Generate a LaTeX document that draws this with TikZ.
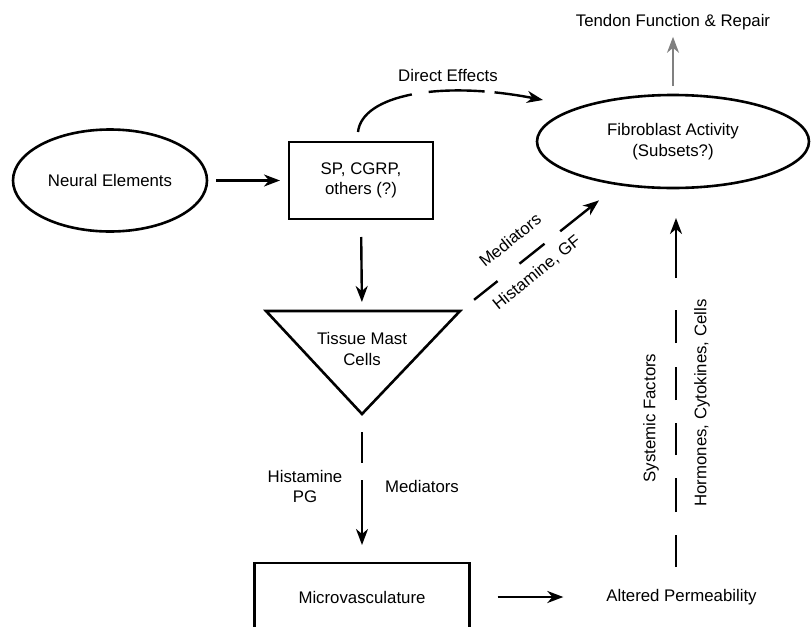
\documentclass[tikz,border=0pt]{standalone}
\usepackage{fontspec}
\setmainfont{Liberation Sans}
\usetikzlibrary{arrows.meta,shapes.geometric}
\begin{document}
\begin{tikzpicture}[x=1pt,y=-1pt,
  every node/.style={font=\fontsize{16.8}{20.5}\selectfont, align=center, inner sep=0pt, outer sep=0pt},
  shapeline/.style={draw, line width=2.6pt},
  arr/.style={line width=2.4pt, -{Stealth[length=16pt,width=12pt,inset=5pt]}},
]
\useasboundingbox (0,0) rectangle (812,627);
\clip (0,0) rectangle (812,627);

% nodes
\node[shapeline, ellipse, minimum width=194pt, minimum height=102pt] (ne) at (110,180.5) {Neural Elements};
\node[shapeline, rectangle, minimum width=144pt, minimum height=77pt] (sp) at (361,180.5) {SP, CGRP,\\others (?)};
\node[shapeline, ellipse, minimum width=272pt, minimum height=93pt] (fa) at (673,141.5) {Fibroblast Activity\\(Subsets?)};
\node (tf) at (673,22) {Tendon Function \& Repair};
\node (de) at (448,75) {Direct Effects};

% triangle
\coordinate (tl) at (266,311);
\coordinate (tr) at (460,311);
\coordinate (tb) at (362,414);
\coordinate (tt) at (362,311);
\draw[line width=2.6pt, line join=miter] (tl) -- (tr) -- (tb) -- cycle;
\node (tm) at (362,349) {Tissue Mast\\Cells};

\node[shapeline, rectangle, minimum width=215pt, minimum height=68pt] (mv) at (362,597) {Microvasculature};
\node (ap) at (681.5,597) {Altered Permeability};

\node (hp) at (305,486.5) {Histamine\\PG};
\node (md) at (422,486) {Mediators};

\node[rotate=90] (sf) at (651,418) {Systemic Factors};
\node[rotate=90] (hc) at (702,403) {Hormones, Cytokines, Cells};

% connectors
\draw[arr, shorten <=9pt, shorten >=9pt] (ne.east) -- (sp.west);
\draw[arr, shorten <=18pt, shorten >=9pt] (sp.south) -- (tt);
\draw[arr, shorten <=18pt, shorten >=18pt, dash pattern=on 31pt off 17pt on 80pt] (tb) -- (mv.north);
\draw[arr, shorten <=28pt, shorten >=43pt] (mv.east) -- (ap.west);

\coordinate (de1) at (358,132);
\coordinate (de2) at (543,100);
\draw[arr, dash pattern=on 70pt off 17pt on 56pt off 10pt on 80pt] (de1) .. controls (362,95) and (440,80) .. (de2);

\draw[arr, shorten <=18pt, shorten >=26pt, dash pattern=on 30pt off 28pt on 32pt off 20pt on 80pt] (tr) -- (fa);
\node[rotate=39] (mdl) at (510,240) {Mediators};
\node[rotate=39] (hgf) at (537,273) {Histamine, GF};

\coordinate (v1) at (676,567);
\coordinate (v2) at (676,218);
\draw[arr, dash pattern=on 32pt off 23pt on 34pt off 23pt on 32pt off 23pt on 33pt off 24pt on 33pt off 32pt on 80pt] (v1) -- (v2);

\draw[arr, line width=1.8pt, draw=gray, fill=gray, shorten <=9pt, shorten >=7pt] (fa.north) -- (tf.south);
\end{tikzpicture}
\end{document}
